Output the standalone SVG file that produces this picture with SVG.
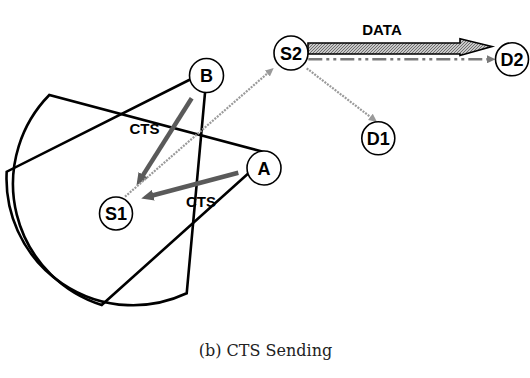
<svg xmlns="http://www.w3.org/2000/svg" width="530" height="378" viewBox="0 0 530 378">
<style>
.sector{fill:none;stroke:#000;stroke-width:2.6;stroke-linejoin:miter}
.node circle{fill:#fff;stroke:#000;stroke-width:1.6}
.node text{font-family:"Liberation Sans",Arial,sans-serif;font-weight:bold;font-size:18px;text-anchor:middle;fill:#000}
.lbl{font-family:"Liberation Sans",Arial,sans-serif;font-weight:bold;font-size:15px;fill:#000;text-anchor:middle}
.cts{stroke:#5a5a5a;stroke-width:4.5;fill:none;marker-end:url(#headThick)}
.dot{stroke:#9a9a9a;stroke-width:2.2;stroke-dasharray:2 1.2;fill:none;marker-end:url(#headThin)}
.dd{stroke:#7a7a7a;stroke-width:2.4;stroke-dasharray:14 4 3 4 3 4;fill:none;marker-end:url(#headThin2)}
.caption{font-family:"DejaVu Serif","Liberation Serif",serif;font-size:16px;text-anchor:middle;fill:#222}
</style>
<defs>
<marker id="headThick" markerUnits="userSpaceOnUse" markerWidth="13" markerHeight="11" refX="2" refY="5.5" orient="auto">
<path d="M0,0 L12.5,5.5 L0,11 z" fill="#5a5a5a"/>
</marker>
<marker id="headThin" markerUnits="userSpaceOnUse" markerWidth="9" markerHeight="8" refX="2" refY="4" orient="auto">
<path d="M0,0 L8.5,4 L0,8 z" fill="#9a9a9a"/>
</marker>
<marker id="headThin2" markerUnits="userSpaceOnUse" markerWidth="9" markerHeight="8" refX="2" refY="4" orient="auto">
<path d="M0,0 L8.5,4 L0,8 z" fill="#7a7a7a"/>
</marker>
<pattern id="hatch" patternUnits="userSpaceOnUse" width="3" height="3">
<rect width="3" height="3" fill="#c8c8c8"/>
<path d="M0,3 L3,0" stroke="#6e6e6e" stroke-width="1"/>
</pattern>
</defs>

<g id="ranges">
<path class="sector" d="M270.4,153.7 L49.3,95 A127 127 0 0 0 101.7,305 Z"/>
<path class="sector" d="M207,71 L6.7,171.7 A126.5 126.5 0 0 0 186.7,293.3 Z"/>
</g>

<g id="connectors">
<line class="cts" x1="191.7" y1="98.3" x2="142.1" y2="176.6"/>
<line class="cts" x1="238.3" y1="172.7" x2="151.4" y2="195.7"/>
<line class="dot" x1="125" y1="196.7" x2="268.8" y2="72.2"/>
<line class="dot" x1="306.7" y1="68.3" x2="371.9" y2="118.1"/>
<line class="dd" x1="308.3" y1="59.3" x2="489" y2="59.3"/>
<path id="data-arrow" d="M308,43 L460,43 L460,38.7 L492,46.5 L460,55.5 L460,54 L308,54 Z" fill="url(#hatch)" stroke="#000" stroke-width="1.6"/>
</g>

<text class="lbl" x="382" y="35" font-size="16">DATA</text>
<text class="lbl" x="144.5" y="134">CTS</text>
<text class="lbl" x="201" y="206.5">CTS</text>

<g id="B" class="node"><circle cx="206.5" cy="75.5" r="17"/><text x="206.5" y="82">B</text></g>
<g id="A" class="node"><circle cx="264" cy="168" r="17"/><text x="264" y="174.5">A</text></g>
<g id="S1" class="node"><circle cx="116" cy="213.5" r="16.5"/><text x="116" y="220">S1</text></g>
<g id="S2" class="node"><circle cx="291" cy="53" r="17"/><text x="291" y="59.5">S2</text></g>
<g id="D1" class="node"><circle cx="378.3" cy="138.3" r="16.5"/><text x="378.3" y="144.8">D1</text></g>
<g id="D2" class="node"><circle cx="512" cy="59.3" r="16.5"/><text x="512" y="65.8">D2</text></g>

<text class="caption" x="265.5" y="356">(b) CTS Sending</text>
</svg>
